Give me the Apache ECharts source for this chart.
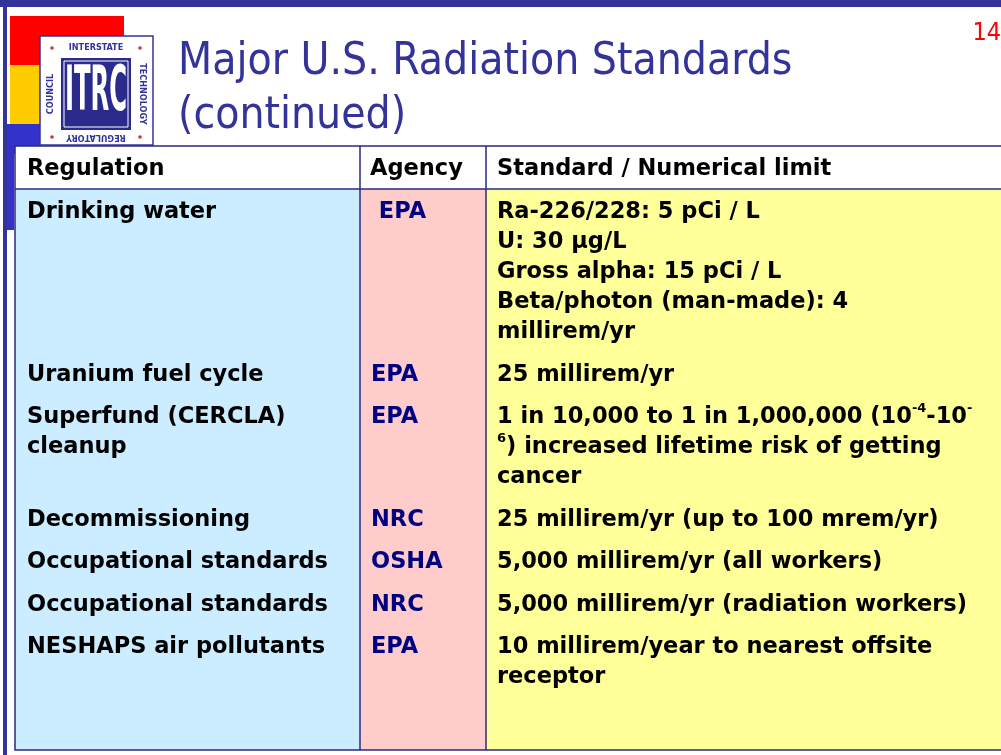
<!DOCTYPE html>
<html>
<head>
<meta charset="utf-8">
<script src="https://cdn.jsdelivr.net/npm/echarts@6/dist/echarts.min.js"></script>
<style>
html,body{margin:0;padding:0;background:#fff;}
#main{width:1001px;height:755px;}
</style>
</head>
<body>
<div id="main"></div>
<script>
// table content
var headers = ['Regulation', 'Agency', 'Standard / Numerical limit'];
var regulations = [
    'Drinking water',
    'Uranium fuel cycle',
    'Superfund (CERCLA)\ncleanup',
    'Decommissioning',
    'Occupational standards',
    'Occupational standards',
    'NESHAPS air pollutants'
];
var agencies = [' EPA', 'EPA', 'EPA', 'NRC', 'OSHA', 'NRC', 'EPA'];
var standards = [
    'Ra-226/228: 5 pCi / L\nU: 30 \u00b5g/L\nGross alpha: 15 pCi / L\nBeta/photon (man-made): 4\nmillirem/yr',
    '25 millirem/yr',
    '{n|1 in 10,000 to 1 in 1,000,000 (10}{s|-4}{n|-10}{s|-}\n{s|6}{n|) increased lifetime risk of getting}\n{n|cancer}',
    '25 millirem/yr (up to 100 mrem/yr)',
    '5,000 millirem/yr (all workers)',
    '5,000 millirem/yr (radiation workers)',
    '10 millirem/year to nearest offsite\nreceptor'
];
var rowLines = [5, 1, 3, 1, 1, 1, 2];
var titleLines = ['Major U.S. Radiation Standards', '(continued)'];
var pageNo = '14';

var NAVY = '#333399';
var FONT = '"DejaVu Sans", sans-serif';
var TFONT = '"DejaVu Sans Condensed", "DejaVu Sans", sans-serif';
var BODY = 'bold 22.5px ' + FONT;
var colX = [15, 360, 486, 1001];
var headTop = 146, headBot = 189, tabBot = 750;
var lineH = 30, gap = 12.5;

var chart = echarts.init(document.getElementById('main'));
var g = [];

// slide frame
g.push({type: 'rect', shape: {x: 0, y: 0, width: 1001, height: 7}, style: {fill: NAVY}});
g.push({type: 'rect', shape: {x: 3, y: 0, width: 4, height: 755}, style: {fill: NAVY}});

// colour blocks behind the logo
g.push({type: 'rect', shape: {x: 10, y: 16, width: 114, height: 49}, style: {fill: '#ff0000'}});
g.push({type: 'rect', shape: {x: 10, y: 65, width: 30, height: 59}, style: {fill: '#ffcc00'}});
g.push({type: 'rect', shape: {x: 7, y: 124, width: 33, height: 30}, style: {fill: '#3333cc'}});
g.push({type: 'rect', shape: {x: 7, y: 150, width: 7, height: 80}, style: {fill: '#3333cc'}});

// logo
g.push({type: 'rect', shape: {x: 40, y: 36, width: 113, height: 109}, style: {fill: '#fff', stroke: NAVY, lineWidth: 1.5}});
g.push({type: 'rect', shape: {x: 61, y: 58, width: 70, height: 72}, style: {fill: '#2b2b8c'}});
g.push({type: 'rect', shape: {x: 64, y: 61, width: 64, height: 66}, style: {fill: 'none', stroke: '#fff', lineWidth: 1}});
g.push({type: 'text', x: 96, y: 94, scaleY: 2.3, style: {text: 'ITRC', font: 'bold 27px "DejaVu Sans Condensed"', fill: '#fff', align: 'center', verticalAlign: 'middle'}});
g.push({type: 'text', x: 96, y: 48, style: {text: 'INTERSTATE', font: 'bold 9px "DejaVu Sans Condensed"', fill: NAVY, align: 'center', verticalAlign: 'middle'}});
g.push({type: 'text', x: 96, y: 137, rotation: Math.PI, style: {text: 'REGULATORY', font: 'bold 9px "DejaVu Sans Condensed"', fill: NAVY, align: 'center', verticalAlign: 'middle'}});
g.push({type: 'text', x: 142, y: 94, rotation: -Math.PI / 2, style: {text: 'TECHNOLOGY', font: 'bold 9px "DejaVu Sans Condensed"', fill: NAVY, align: 'center', verticalAlign: 'middle'}});
g.push({type: 'text', x: 51, y: 94, rotation: Math.PI / 2, style: {text: 'COUNCIL', font: 'bold 9px "DejaVu Sans Condensed"', fill: NAVY, align: 'center', verticalAlign: 'middle'}});
[[52, 48], [140, 48], [52, 137], [140, 137]].forEach(function (p) {
    g.push({type: 'circle', shape: {cx: p[0], cy: p[1], r: 1.8}, style: {fill: '#cc3333'}});
});

// title + page number
g.push({type: 'text', x: 178, y: 36, style: {text: titleLines.join('\n'), font: '44px ' + TFONT, lineHeight: 54, fill: NAVY}});
g.push({type: 'text', x: 1001, y: 33, style: {text: pageNo, font: '25px ' + TFONT, fill: '#ff0000', align: 'right', verticalAlign: 'middle'}});

// table backgrounds
g.push({type: 'rect', shape: {x: colX[0], y: headTop, width: colX[3] - colX[0], height: headBot - headTop}, style: {fill: '#fff'}});
var fills = ['#ccecff', '#ffcccc', '#ffff99'];
for (var c = 0; c < 3; c++) {
    g.push({type: 'rect', shape: {x: colX[c], y: headBot, width: colX[c + 1] - colX[c], height: tabBot - headBot}, style: {fill: fills[c]}});
}
// grid lines
g.push({type: 'rect', shape: {x: colX[0], y: headTop, width: 1010, height: tabBot - headTop}, style: {fill: 'none', stroke: '#2a2a80', lineWidth: 1.5}});
g.push({type: 'line', shape: {x1: colX[0], y1: headBot, x2: 1001, y2: headBot}, style: {stroke: '#2a2a80', lineWidth: 1.5}});
g.push({type: 'line', shape: {x1: colX[1], y1: headTop, x2: colX[1], y2: tabBot}, style: {stroke: '#2a2a80', lineWidth: 1.5}});
g.push({type: 'line', shape: {x1: colX[2], y1: headTop, x2: colX[2], y2: tabBot}, style: {stroke: '#2a2a80', lineWidth: 1.5}});

// header text
var textX = [27, 370, 497];
headers.forEach(function (h, i) {
    g.push({type: 'text', x: textX[i], y: 169, style: {text: h, font: BODY, fill: '#000', verticalAlign: 'middle'}});
});

// body rows
var rowY = 212.5;
for (var r = 0; r < regulations.length; r++) {
    var y0 = rowY - lineH / 2;
    g.push({type: 'text', x: 27, y: y0, style: {text: regulations[r], font: BODY, lineHeight: lineH, fill: '#000'}});
    g.push({type: 'text', x: 371, y: y0, style: {text: agencies[r], font: BODY, lineHeight: lineH, fill: '#000080'}});
    g.push({type: 'text', x: 497, y: y0, style: {
        text: standards[r], font: BODY, lineHeight: lineH, fill: '#000',
        rich: {
            n: {font: BODY, lineHeight: lineH, fill: '#000'},
            s: {font: 'bold 13px ' + FONT, lineHeight: 18, fill: '#000', verticalAlign: 'top', padding: [0, 0, 12, 0]}
        }
    }});
    rowY += rowLines[r] * lineH + gap;
}

chart.setOption({animation: false, graphic: {elements: g}});
</script>
</body>
</html>
